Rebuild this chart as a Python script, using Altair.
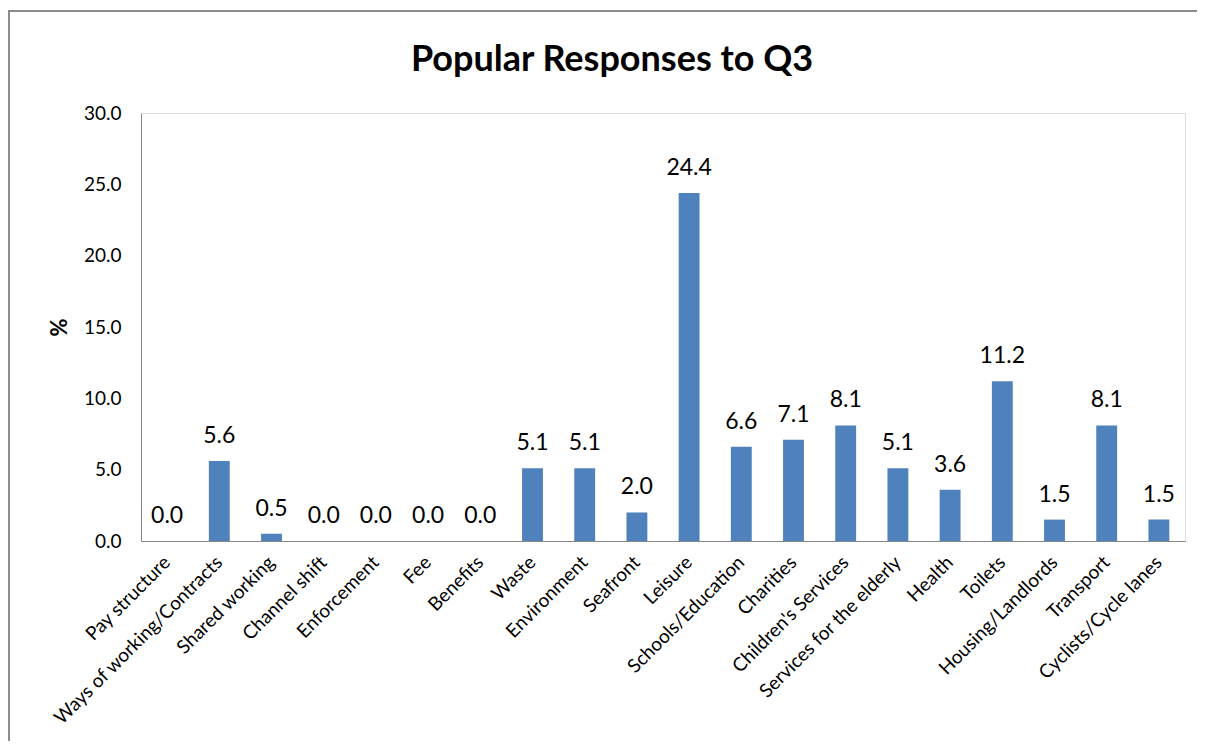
import altair as alt
import pandas as pd

categories = ["Pay structure", "Ways of working/Contracts", "Shared working", "Channel shift",
              "Enforcement", "Fee", "Benefits", "Waste", "Environment", "Seafront", "Leisure",
              "Schools/Education", "Charities", "Children's Services", "Services for the elderly",
              "Health", "Toilets", "Housing/Landlords", "Transport", "Cyclists/Cycle lanes"]
values = [0.0, 5.6, 0.5, 0.0, 0.0, 0.0, 0.0, 5.1, 5.1, 2.0, 24.4, 6.6, 7.1, 8.1, 5.1,
          3.6, 11.2, 1.5, 8.1, 1.5]
title_text = ["Popular Responses to Q3"]

df = pd.DataFrame({"cat": categories, "val": values})
FONT = "Lato"

x = alt.X("cat:N", sort=categories, title=None,
          scale=alt.Scale(paddingInner=0.6, paddingOuter=0.3),
          axis=alt.Axis(labelAngle=-45, labelAlign="right", labelBaseline="middle",
                        labelFontSize=19, labelFont=FONT, labelColor="#000000",
                        labelPadding=18, ticks=False, domainColor="#868686",
                        labelLimit=400, labelOverlap=False))
y = alt.Y("val:Q", title="%",
          scale=alt.Scale(domain=[0, 30]),
          axis=alt.Axis(values=[0, 5, 10, 15, 20, 25, 30], format=".1f", grid=False,
                        ticks=False, domainColor="#868686", labelFontSize=19,
                        labelFont=FONT, labelColor="#000000", labelPadding=20,
                        titleFont=FONT, titleFontSize=22, titleFontWeight="bold",
                        titleColor="#000000", titlePadding=12))

bars = alt.Chart(df).mark_bar(color="#4F81BD").encode(x=x, y=y)
labels = alt.Chart(df).mark_text(dy=-13, fontSize=23, font=FONT, color="#000000",
                                 baseline="bottom").encode(
    x=alt.X("cat:N", sort=categories), y="val:Q", text=alt.Text("val:Q", format=".1f"))
border_left = alt.Chart(df).mark_rule(stroke="#8c8c8c", strokeWidth=2, clip=False).encode(
    x=alt.value(-132), y=alt.value(-103), y2=alt.value(700))
border_top = alt.Chart(df).mark_rule(stroke="#8c8c8c", strokeWidth=2, clip=False).encode(
    x=alt.value(-133), x2=alt.value(1100), y=alt.value(-102))
title = alt.Chart(pd.DataFrame({"t": title_text})).mark_text(
    font=FONT, fontSize=36, fontWeight="bold", color="#000000",
    align="center", baseline="middle").encode(
    text="t:N", x=alt.value(471), y=alt.value(-53))

chart = alt.layer(border_left, border_top, bars, labels, title).properties(
    width=1044, height=428,
    autosize=alt.AutoSizeParams(type="none"),
    padding={"left": 133, "top": 105, "right": 12, "bottom": 200},
).configure_view(stroke=None).configure(background="white")

chart.save("out.html", embed_options={"renderer": "svg", "actions": False})
